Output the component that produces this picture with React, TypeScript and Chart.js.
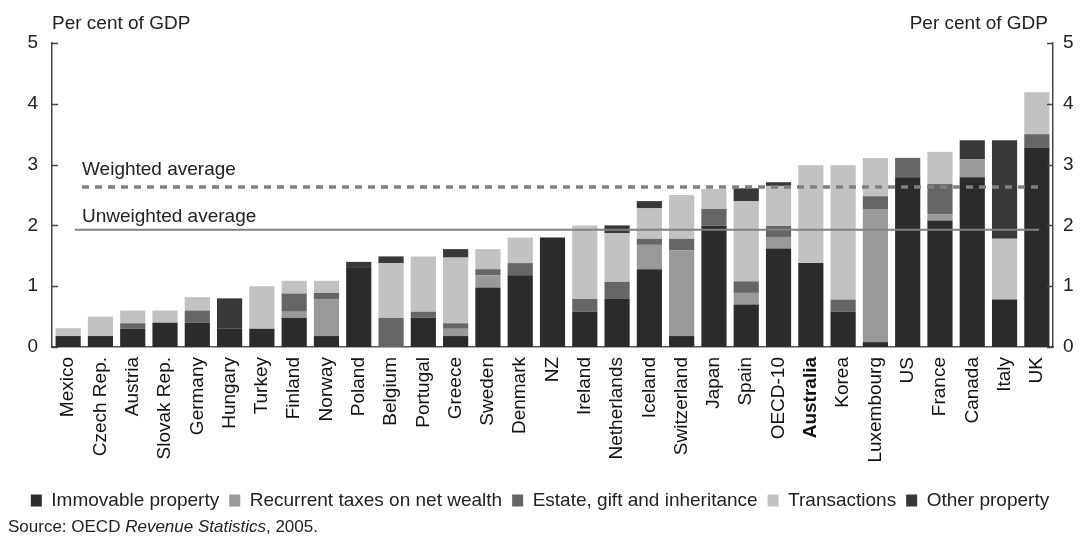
import React, { useEffect, useRef } from "react";
import { Chart, registerables } from "chart.js";

Chart.register(...registerables);

const countries = ["Mexico","Czech Rep.","Austria","Slovak Rep.","Germany","Hungary","Turkey","Finland","Norway","Poland","Belgium","Portugal","Greece","Sweden","Denmark","NZ","Ireland","Netherlands","Iceland","Switzerland","Japan","Spain","OECD-10","Australia","Korea","Luxembourg","US","France","Canada","Italy","UK"];

const immovable = [0.18,0.18,0.3,0.4,0.4,0.3,0.3,0.48,0.18,1.3,0,0.48,0.18,0.98,1.18,1.8,0.58,0.79,1.28,0.18,2.0,0.7,1.62,1.38,0.58,0.08,2.79,2.08,2.79,0.78,3.28];
const recurrent = [0,0,0,0,0,0,0,0.1,0.61,0,0,0,0.12,0.2,0,0,0,0,0.4,1.41,0,0.19,0.19,0,0,2.19,0,0.1,0.3,0,0];
const estate = [0,0,0.09,0,0.2,0,0,0.3,0.1,0,0.48,0.1,0.09,0.1,0.2,0,0.21,0.28,0.1,0.19,0.27,0.19,0.18,0,0.2,0.21,0.32,0.5,0,0,0.22];
const transactions = [0.13,0.32,0.21,0.2,0.22,0,0.7,0.21,0.2,0,0.9,0.91,1.08,0.33,0.42,0,1.21,0.8,0.5,0.72,0.33,1.32,0.66,1.61,2.21,0.63,0,0.53,0,1.0,0.69];
const otherProperty = [0,0,0,0,0,0.5,0,0,0,0.1,0.11,0,0.14,0,0,0,0,0.13,0.12,0,0,0.21,0.06,0,0,0,0,0,0.31,1.62,0];

const weightedAverage = 2.63;
const unweightedAverage = 1.93;
const yTicks = [0, 1, 2, 3, 4, 5];
const boldCategory = "Australia";

const FONT = "'Liberation Sans', Arial, sans-serif";

export default function App() {
  const ref = useRef<HTMLCanvasElement>(null);
  useEffect(() => {
    const canvas = ref.current!;
    const overlay = {
      id: "overlay",
      afterDatasetsDraw(chart: any) {
        const ctx = chart.ctx;
        const area = chart.chartArea;
        const y = chart.scales.y;
        ctx.save();
        // inward ticks
        ctx.strokeStyle = "#444";
        ctx.lineWidth = 1.5;
        yTicks.forEach((v) => {
          const py = Math.round(y.getPixelForValue(v)) + 0.5;
          ctx.beginPath();
          ctx.moveTo(area.left, py);
          ctx.lineTo(area.left + 6, py);
          ctx.moveTo(area.right, py);
          ctx.lineTo(area.right - 6, py);
          ctx.stroke();
        });
        // average lines
        const wy = y.getPixelForValue(weightedAverage);
        ctx.strokeStyle = "#808080";
        ctx.lineWidth = 3.5;
        ctx.setLineDash([7, 6]);
        ctx.beginPath();
        ctx.moveTo(area.left + 30, wy);
        ctx.lineTo(area.right - 14, wy);
        ctx.stroke();
        ctx.setLineDash([]);
        const uy = y.getPixelForValue(unweightedAverage);
        ctx.lineWidth = 2;
        ctx.beginPath();
        ctx.moveTo(area.left + 23, uy);
        ctx.lineTo(area.right - 14, uy);
        ctx.stroke();
        ctx.fillStyle = "#222";
        ctx.font = "19px " + FONT;
        ctx.textAlign = "left";
        ctx.textBaseline = "alphabetic";
        ctx.fillText("Weighted average", area.left + 30, wy - 12);
        ctx.fillText("Unweighted average", area.left + 30, uy - 8);
        // unit labels
        ctx.fillText("Per cent of GDP", area.left, 29);
        ctx.textAlign = "right";
        ctx.fillText("Per cent of GDP", area.right - 5, 29);
        // source
        ctx.textAlign = "left";
        ctx.font = "17px " + FONT;
        let x = 8;
        const by = 532;
        const p1 = "Source: OECD ";
        ctx.fillText(p1, x, by);
        x += ctx.measureText(p1).width;
        ctx.font = "italic 17px " + FONT;
        const p2 = "Revenue Statistics";
        ctx.fillText(p2, x, by);
        x += ctx.measureText(p2).width;
        ctx.font = "17px " + FONT;
        ctx.fillText(", 2005.", x, by);
        ctx.restore();
      },
    };
    const mk = (label: string, data: number[], color: string) => ({
      label,
      data,
      backgroundColor: color,
      borderWidth: 0,
      barPercentage: 0.78,
      categoryPercentage: 1,
    });
    const chart = new Chart(canvas, {
      type: "bar",
      data: {
        labels: countries,
        datasets: [
          mk("Immovable property", immovable, "#2b2b2b"),
          mk("Recurrent taxes on net wealth", recurrent, "#999999"),
          mk("Estate, gift and inheritance", estate, "#666666"),
          mk("Transactions", transactions, "#c2c2c2"),
          mk("Other property", otherProperty, "#383838"),
        ],
      },
      options: {
        responsive: false,
        animation: false,
        layout: { padding: { top: 43, bottom: 20, left: 0, right: 0 } },
        plugins: {
          legend: {
            position: "bottom",
            labels: {
              boxWidth: 11,
              boxHeight: 12,
              padding: 10,
              color: "#222",
              font: { family: FONT, size: 19 },
            },
          },
          tooltip: { enabled: false },
        },
        scales: {
          x: {
            stacked: true,
            grid: { display: false, drawTicks: false },
            border: { display: true, color: "#555", width: 1.5 },
            ticks: {
              autoSkip: false,
              maxRotation: 90,
              minRotation: 90,
              padding: 10,
              color: "#111",
              font: (c: any) => ({
                family: FONT,
                size: 19,
                weight: countries[c.index] === boldCategory ? "bold" : "normal",
              }),
            },
            afterFit: (s: any) => {
              s.height = 134;
            },
          },
          y: {
            stacked: true,
            position: "left",
            min: 0,
            max: 5,
            grid: { display: false, drawTicks: false },
            border: { display: true, color: "#444", width: 1.5 },
            ticks: {
              stepSize: 1,
              padding: 14,
              color: "#222",
              font: { family: FONT, size: 19 },
            },
            afterFit: (s: any) => {
              s.width = 52;
            },
          },
          y2: {
            position: "right",
            min: 0,
            max: 5,
            grid: { display: false, drawTicks: false },
            border: { display: true, color: "#444", width: 1.5 },
            ticks: {
              stepSize: 1,
              padding: 10,
              color: "#222",
              font: { family: FONT, size: 19 },
            },
            afterFit: (s: any) => {
              s.width = 27;
            },
          },
        },
      },
      plugins: [overlay],
    });
    return () => chart.destroy();
  }, []);
  return (
    <div style={{ position: "fixed", left: 0, top: 0, width: 1080, height: 540, background: "#fff" }}>
      <canvas ref={ref} width={1080} height={540} />
    </div>
  );
}
